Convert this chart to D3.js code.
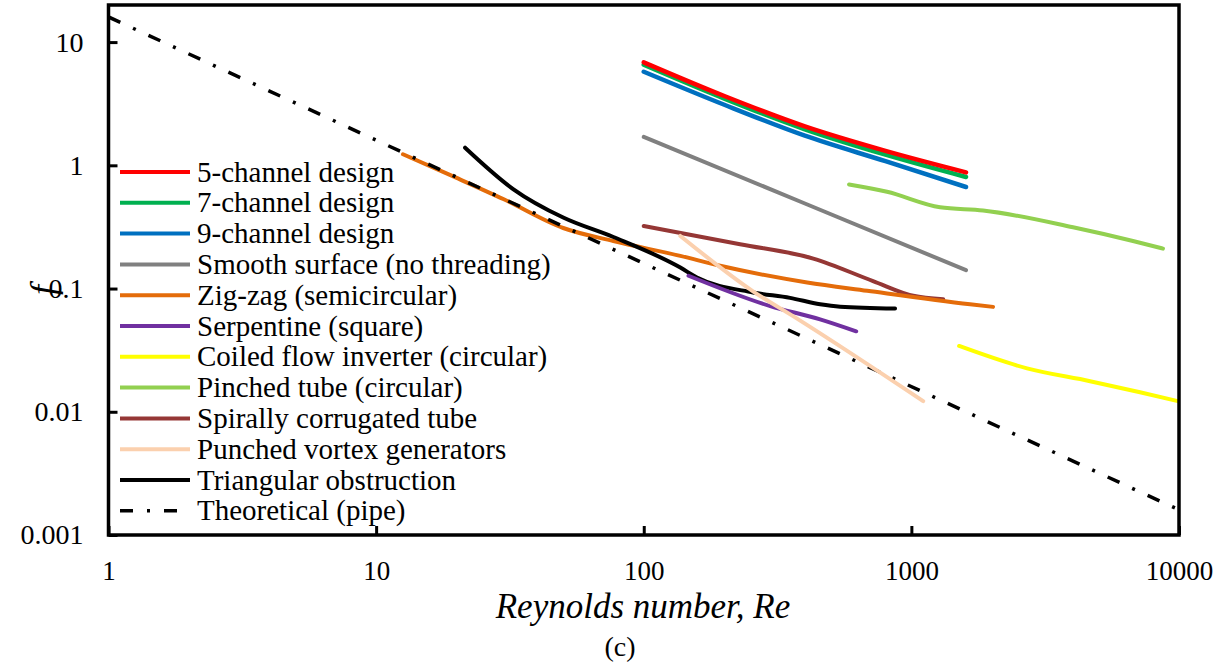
<!DOCTYPE html>
<html><head><meta charset="utf-8">
<script src="https://cdn.jsdelivr.net/npm/d3@7"></script>
<style>
html,body{margin:0;padding:0;background:#fff;}
svg{display:block;font-family:"Liberation Serif","Times New Roman",serif;}
</style></head>
<body>
<svg id="chart" width="1225" height="668"></svg>
<script>
// ---- data (Re, f) ----
const ch5 = [[100,6.85],[200,3.65],[400,2.07],[800,1.31],[1600,0.877]];
const ch7 = [[100,6.55],[200,3.48],[400,1.96],[800,1.22],[1600,0.804]];
const ch9 = [[100,5.75],[200,3.10],[400,1.74],[800,1.08],[1600,0.667]];
const smooth = [[100,1.70],[400,0.49],[1600,0.141]];
const zigzag = [[12.6,1.23],[20,0.79],[30,0.53],[50,0.31],[77,0.243],[137,0.184],[193,0.153],[408,0.112],[684,0.096],[1657,0.0746],[2019,0.071]];
const serpentine = [[147,0.127],[297,0.072],[456,0.0563],[622,0.045]];
const coiled = [[1508,0.0342],[2705,0.0225],[4654,0.0177],[7150,0.0144],[9900,0.0122]];
const pinched = [[585,0.70],[811,0.61],[1280,0.457],[1854,0.43],[4018,0.314],[6730,0.243],[8710,0.211]];
const spiral = [[100,0.322],[229,0.229],[430,0.175],[719,0.115],[1016,0.0873],[1315,0.082]];
const punched = [[137,0.267],[256,0.095],[374,0.057],[1107,0.0122]];
const triangular = [[21.5,1.39],[32.6,0.639],[50,0.377],[77,0.262],[137,0.148],[158,0.123],[256,0.093],[352,0.084],[456,0.0746],[542,0.0713],[869,0.0688]];
const theoretical = [[1,16],[10000,0.0016]];

const seriesNames = ["5-channel design","7-channel design","9-channel design","Smooth surface (no threading)","Zig-zag (semicircular)","Serpentine (square)","Coiled flow inverter (circular)","Pinched tube (circular)","Spirally corrugated tube","Punched vortex generators","Triangular obstruction","Theoretical (pipe)"];
const seriesData = [ch5,ch7,ch9,smooth,zigzag,serpentine,coiled,pinched,spiral,punched,triangular,theoretical];
const seriesColors = ["#FF0000","#00B050","#0070C0","#808080","#E46C0A","#7030A0","#FFFF00","#92D050","#953735","#FBD0AE","#000000","#000000"];

const xTicks = [1,10,100,1000,10000];
const xTickLabels = ["1","10","100","1000","10000"];
const yTicks = [0.001,0.01,0.1,1,10];
const yTickLabels = ["0.001","0.01","0.1","1","10"];

// ---- layout ----
const L = 108.5, R = 1179, T = 5, B = 535;
const svg = d3.select("#chart");
const x = d3.scaleLog().domain([1,10000]).range([L,R]);
const y = d3.scaleLog().domain([0.001,20]).range([B,T]);

const line = d3.line().x(d=>x(d[0])).y(d=>y(d[1])).curve(d3.curveMonotoneX);

svg.append("clipPath").attr("id","clip").append("rect")
  .attr("x",L).attr("y",T).attr("width",R-L).attr("height",B-T);
const g = svg.append("g").attr("clip-path","url(#clip)");
const zOrder = [2,1,0,3,7,6,8,4,11,10,5,9];
zOrder.forEach(i=>{
  const p = g.append("path").datum(seriesData[i])
    .attr("d",line).attr("fill","none")
    .attr("stroke",seriesColors[i])
    .attr("stroke-width", i===11?3.5:(i<3?4.5:4))
    .attr("stroke-linecap", i===11?"butt":"round")
    .attr("stroke-linejoin","round");
  if(i===11) p.attr("stroke-dasharray","13,14,3,14");
});

// axes frame
svg.append("rect").attr("x",L).attr("y",T).attr("width",R-L).attr("height",B-T)
  .attr("fill","none").attr("stroke","#000").attr("stroke-width",3.5);

// bottom axis (ticks inside)
const xAxis = d3.axisBottom(x).tickValues(xTicks).tickSize(-9).tickPadding(20)
  .tickFormat((d,i)=>xTickLabels[i]);
const gx = svg.append("g").attr("transform",`translate(0,${B})`).call(xAxis);
gx.select(".domain").remove();
gx.selectAll(".tick line").attr("stroke","#000").attr("stroke-width",3);
gx.selectAll(".tick text").attr("font-size",27).attr("font-family","Liberation Serif").attr("fill","#000")
  .attr("dy","0.71em").attr("y",25.5);

// left axis (ticks inside)
const yAxis = d3.axisLeft(y).tickValues(yTicks).tickSize(-9).tickPadding(26)
  .tickFormat((d,i)=>yTickLabels[i]);
const gy = svg.append("g").attr("transform",`translate(${L},0)`).call(yAxis);
gy.select(".domain").remove();
gy.selectAll(".tick line").attr("stroke","#000").attr("stroke-width",3);
gy.selectAll(".tick text").attr("font-size",28).attr("font-family","Liberation Serif").attr("fill","#000")
  .attr("x",-25);

// axis titles
svg.append("text").attr("x",643).attr("y",617.5).attr("text-anchor","middle")
  .attr("font-size",35).attr("font-style","italic").text("Reynolds number, Re");
svg.append("text").attr("transform","translate(55,290) rotate(-90)").attr("text-anchor","middle")
  .attr("font-size",36).attr("font-style","italic").text("f");
svg.append("text").attr("x",620).attr("y",656).attr("text-anchor","middle")
  .attr("font-size",28).text("(c)");

// legend
const lg = svg.append("g");
seriesNames.forEach((name,i)=>{
  const yy = 172 + i*30.8;
  const ln = lg.append("line").attr("x1",120).attr("x2",190).attr("y1",yy).attr("y2",yy)
    .attr("stroke",seriesColors[i]).attr("stroke-width",i===11?3.5:4);
  if(i===11) ln.attr("stroke-dasharray","13,14,3,14");
  lg.append("text").attr("x",197).attr("y",yy).attr("dy","0.33em")
    .attr("font-size",29).attr("fill","#000").text(name);
});
</script>
</body></html>
